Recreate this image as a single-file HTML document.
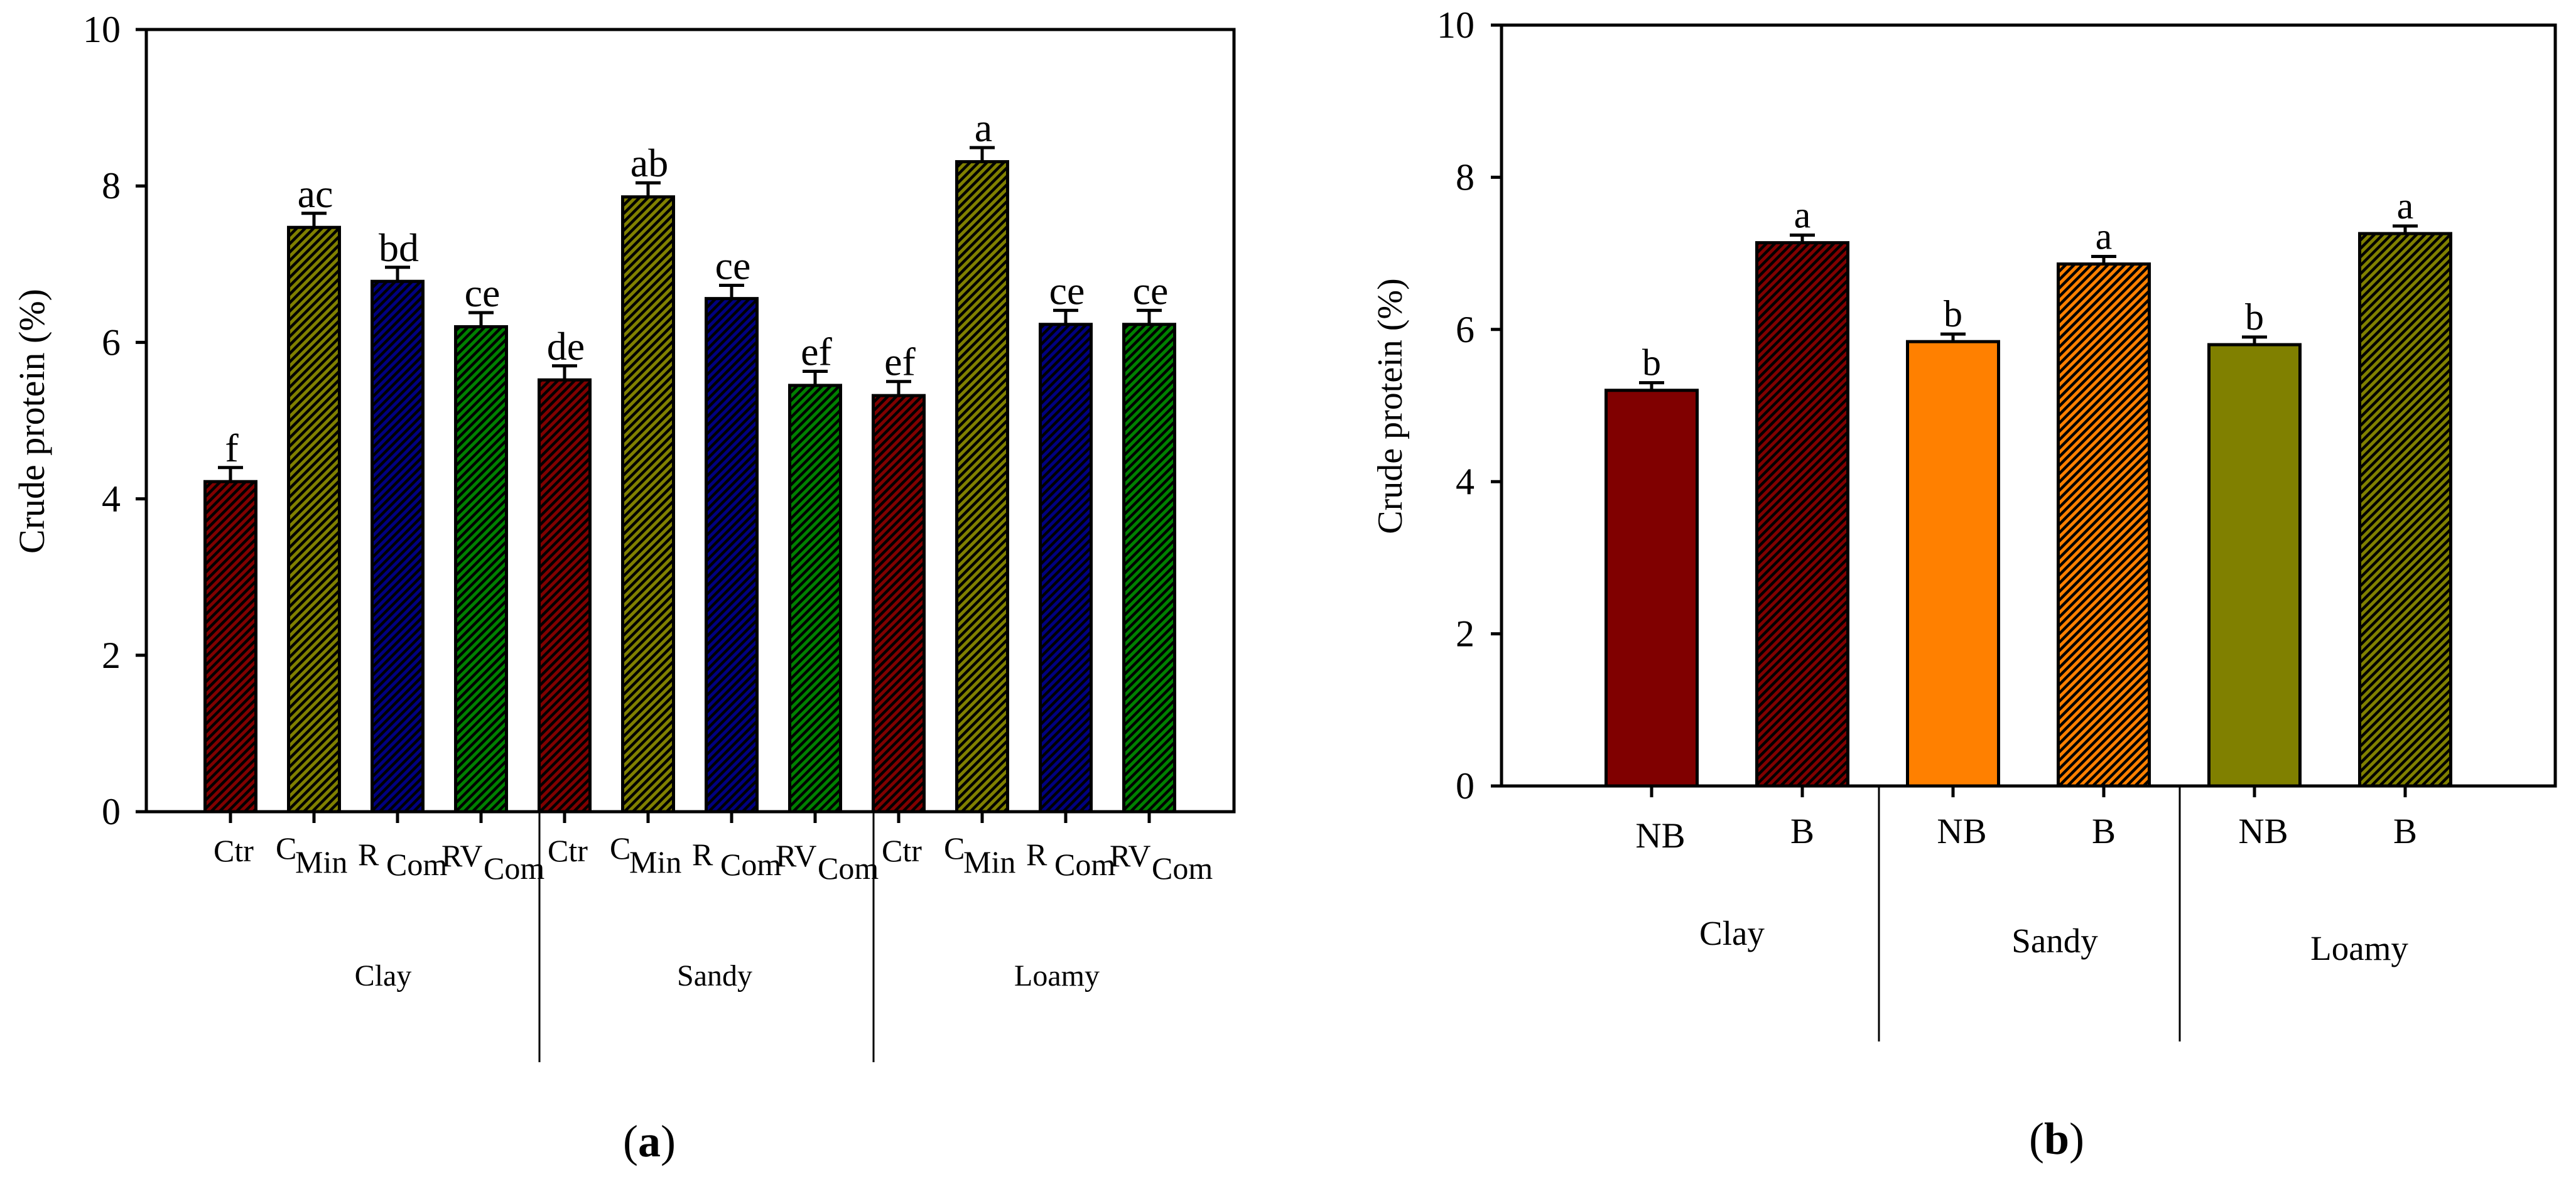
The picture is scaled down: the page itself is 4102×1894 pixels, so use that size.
<!DOCTYPE html>
<html><head><meta charset="utf-8"><style>
html,body{margin:0;padding:0;background:#fff}
svg{display:block;font-family:"Liberation Serif",serif}
</style></head><body>
<svg id="fig" xmlns="http://www.w3.org/2000/svg" width="4102" height="1894" viewBox="0 0 4102 1894">
<defs>
<pattern id="hr" patternUnits="userSpaceOnUse" width="9.5" height="9.5" patternTransform="rotate(45)"><rect width="9.5" height="9.5" fill="#800000"/><rect width="4.5" height="9.5" fill="#000"/></pattern>
<pattern id="ho" patternUnits="userSpaceOnUse" width="9.5" height="9.5" patternTransform="rotate(45)"><rect width="9.5" height="9.5" fill="#808000"/><rect width="4.5" height="9.5" fill="#000"/></pattern>
<pattern id="hb" patternUnits="userSpaceOnUse" width="9.5" height="9.5" patternTransform="rotate(45)"><rect width="9.5" height="9.5" fill="#000080"/><rect width="4.5" height="9.5" fill="#000"/></pattern>
<pattern id="hg" patternUnits="userSpaceOnUse" width="9.5" height="9.5" patternTransform="rotate(45)"><rect width="9.5" height="9.5" fill="#008000"/><rect width="4.5" height="9.5" fill="#000"/></pattern>
<pattern id="hor" patternUnits="userSpaceOnUse" width="9.5" height="9.5" patternTransform="rotate(45)"><rect width="9.5" height="9.5" fill="#FF8000"/><rect width="4.5" height="9.5" fill="#000"/></pattern>
</defs>
<g id="pa"></g>
<g id="pb"></g>
</svg>
<script>
// Panel A data
const aGroups = ["Clay","Sandy","Loamy"];
const aTreat = ["Ctr","CMin","RCom","RVCom"];
const aValues = [4.22,7.47,6.78,6.20, 5.52,7.86,6.56,5.45, 5.32,8.31,6.23,6.23];
const aErrors = [0.18,0.18,0.18,0.18, 0.18,0.18,0.17,0.18, 0.18,0.18,0.18,0.18];
const aLetters = ["f","ac","bd","ce","de","ab","ce","ef","ef","a","ce","ce"];
const yTicks = [0,2,4,6,8,10];
// Panel B data
const bGroups = ["Clay","Sandy","Loamy"];
const bTreat = ["NB","B"];
const bValues = [5.20,7.14,5.84,6.86,5.80,7.26];
const bErrors = [0.10,0.10,0.10,0.10,0.10,0.10];
const bLetters = ["b","a","b","a","b","a"];

const NS="http://www.w3.org/2000/svg";
function mk(parent,tag,attrs,text){const e=document.createElementNS(NS,tag);for(const k in attrs)e.setAttribute(k,attrs[k]);if(text!==undefined)e.textContent=text;parent.appendChild(e);return e;}

function axes(g,L,R,T,B,yScale,labRight,titleX,titleY,titleSize){
  const fr=mk(g,'rect',{x:L,y:T,width:R-L,height:B-T,fill:'none',stroke:'#000','stroke-width':5});
  
  
  yTicks.forEach(v=>{
    const y=yScale(v);
    const t=mk(g,'line',{x1:L-17,x2:L,y1:y,y2:y,stroke:'#000','stroke-width':5});
    
    
    const tx=mk(g,'text',{x:labRight,y:y+20,'text-anchor':'end','font-size':60},String(v));
    
    
  });
  const tt=mk(g,'text',{x:0,y:0,'text-anchor':'middle','font-size':titleSize,transform:`translate(${titleX},${titleY}) rotate(-90)`},'Crude protein (%)');
  
  
}

// ---- Panel A ----
(function(){
  const g=document.getElementById('pa');
  const L=233,R=1965,T=47,B=1293;
  const y=v=>B-(B-T)*v/10;
  const x0=367,step=133,bw=81;
  const fills=['url(#hr)','url(#ho)','url(#hb)','url(#hg)'];
  aValues.forEach((v,i)=>{
    const cx=x0+i*step;
    const r=mk(g,'rect',{x:cx-bw/2,y:y(v),width:bw,height:B-y(v),fill:fills[i%4],stroke:'#000','stroke-width':5});
    
    
    const et=y(v+aErrors[i]);
    const e1=mk(g,'line',{x1:cx,x2:cx,y1:y(v),y2:et,stroke:'#000','stroke-width':5});
    
    
    const e2=mk(g,'line',{x1:cx-20,x2:cx+20,y1:et,y2:et,stroke:'#000','stroke-width':5});
    
    
    const lt=mk(g,'text',{x:cx+2,y:et-10,'text-anchor':'middle','font-size':64},aLetters[i]);
    
    
    const tk=mk(g,'line',{x1:cx,x2:cx,y1:B,y2:B+18,stroke:'#000','stroke-width':5});
    
    
    const k=i%4;
    const lab=mk(g,'text',{'font-size':50});
    
    
    if(k===0){mk(lab,'tspan',{x:cx-27,y:1372},'Ctr');}
    else if(k===1){mk(lab,'tspan',{x:cx-61,y:1368},'C');mk(lab,'tspan',{x:cx-30,y:1390},'Min');}
    else if(k===2){mk(lab,'tspan',{x:cx-63,y:1378},'R');mk(lab,'tspan',{x:cx-18,y:1394},'Com');}
    else {mk(lab,'tspan',{x:cx-63,y:1380},'RV');mk(lab,'tspan',{x:cx+4,y:1400},'Com');}
  });
  [859,1391].forEach(dx=>{
    const d=mk(g,'line',{x1:dx,x2:dx,y1:B,y2:1692,stroke:'#000','stroke-width':3});
    
    
  });
  [610,1138,1683].forEach((gx,j)=>{
    const t=mk(g,'text',{x:gx,y:1570,'text-anchor':'middle','font-size':48},aGroups[j]);
    
    
  });
  axes(g,L,R,T,B,y,192,70,671,58);
  const pl=mk(g,'text',{x:1034,y:1842,'text-anchor':'middle','font-size':72});
  
  
  mk(pl,'tspan',{},'(');mk(pl,'tspan',{'font-weight':'bold'},'a');mk(pl,'tspan',{},')');
})();

// ---- Panel B ----
(function(){
  const g=document.getElementById('pb');
  const L=2391,R=4069,T=40,B=1252;
  const y=v=>B-(B-T)*v/10;
  const x0=2630,step=240,bw=145;
  const fills=['#800000','url(#hr)','#FF8000','url(#hor)','#808000','url(#ho)'];
  bValues.forEach((v,i)=>{
    const cx=x0+i*step;
    const r=mk(g,'rect',{x:cx-bw/2,y:y(v),width:bw,height:B-y(v),fill:fills[i],stroke:'#000','stroke-width':5});
    
    
    const et=y(v+bErrors[i]);
    const e1=mk(g,'line',{x1:cx,x2:cx,y1:y(v),y2:et,stroke:'#000','stroke-width':5});
    
    
    const e2=mk(g,'line',{x1:cx-20,x2:cx+20,y1:et,y2:et,stroke:'#000','stroke-width':5});
    
    
    const lt=mk(g,'text',{x:cx,y:et-12,'text-anchor':'middle','font-size':60},bLetters[i]);
    
    
    const tk=mk(g,'line',{x1:cx,x2:cx,y1:B,y2:B+18,stroke:'#000','stroke-width':5});
    
    
    const lab=mk(g,'text',{x:cx+(i%2===0?14:0),y:i===0?1350:1343,'text-anchor':'middle','font-size':57},bTreat[i%2]);
    
    
  });
  [2992,3471].forEach(dx=>{
    const d=mk(g,'line',{x1:dx,x2:dx,y1:B,y2:1659,stroke:'#000','stroke-width':3});
    
    
  });
  [[2758,1505],[3272,1517],[3757,1529]].forEach((p,j)=>{
    const t=mk(g,'text',{x:p[0],y:p[1],'text-anchor':'middle','font-size':55},bGroups[j]);
    
    
  });
  axes(g,L,R,T,B,y,2348,2232,647,56);
  const pl=mk(g,'text',{x:3275,y:1838,'text-anchor':'middle','font-size':72});
  
  
  mk(pl,'tspan',{},'(');mk(pl,'tspan',{'font-weight':'bold'},'b');mk(pl,'tspan',{},')');
})();
</script>
</body></html>
